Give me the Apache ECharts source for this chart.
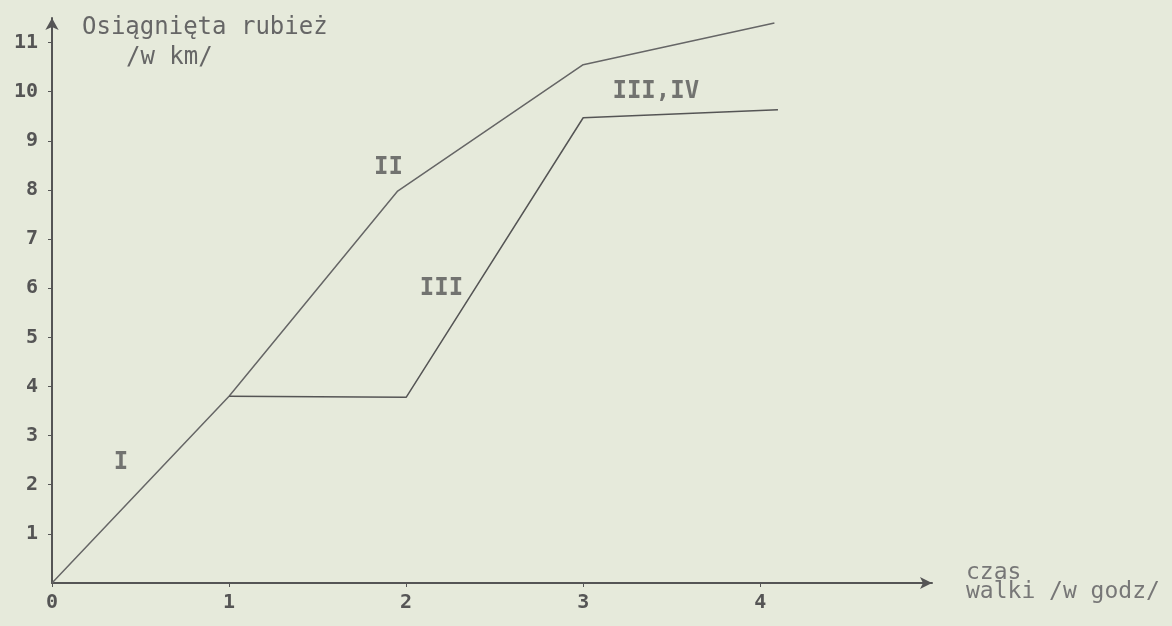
<!DOCTYPE html>
<html>
<head>
<meta charset="utf-8">
<script src="https://cdn.jsdelivr.net/npm/echarts@6/dist/echarts.min.js"></script>
<style>
  html, body { margin: 0; padding: 0; background: #e6eadb; }
  #chart { width: 1172px; height: 626px; }
</style>
</head>
<body>
<div id="chart"></div>
<script>
// wariant I -> II
const timeI_II = [0, 1, 1.95, 3, 4.08]
const rangeI_II = [0, 3.8, 7.97, 10.55, 11.4]
// wariant III -> III,IV
const timeIII = [1, 2, 3, 4.1]
const rangeIII = [3.8, 3.78, 9.47, 9.63]
// opisy odcinków
const tagNames = ['I', 'II', 'III', 'III,IV']
const tagTime = [0.39, 1.9, 2.2, 3.41]
const tagRange = [2.45, 8.45, 5.98, 10.0]
// osie
const xTicks = [0, 1, 2, 3, 4]
const yTicks = [1, 2, 3, 4, 5, 6, 7, 8, 9, 10, 11]

const ink = '#555'
const mono = '"DejaVu Sans Mono", "Liberation Mono", monospace'

const pairs = (xs, ys) => xs.map((x, i) => [x, ys[i]])

const instance = echarts.init(document.getElementById('chart'))
const option = {
  backgroundColor: '#e6eadb',
  animation: false,
  grid: {
    left: 52,
    right: 240,
    top: 18,
    bottom: 43
  },
  xAxis: {
    type: 'value',
    min: 0,
    max: 4.97,
    splitLine: { show: false },
    axisLine: {
      lineStyle: { color: '#555', width: 2 },
      symbol: ['none', 'arrow'],
      symbolSize: [9, 12]
    },
    axisTick: {
      customValues: xTicks,
      length: 4,
      lineStyle: { color: '#555' }
    },
    axisLabel: {
      customValues: xTicks,
      margin: 10,
      color: ink,
      fontFamily: mono,
      fontWeight: 'bold',
      fontSize: 20
    }
  },
  yAxis: {
    type: 'value',
    min: 0,
    max: 11.5,
    splitLine: { show: false },
    axisLine: {
      lineStyle: { color: '#555', width: 2 },
      symbol: ['none', 'arrow'],
      symbolSize: [10, 12]
    },
    axisTick: {
      customValues: yTicks,
      length: 4,
      lineStyle: { color: '#555' }
    },
    axisLabel: {
      customValues: yTicks,
      margin: 14,
      color: ink,
      fontFamily: mono,
      fontWeight: 'bold',
      fontSize: 20
    }
  },
  graphic: [
    {
      type: 'text',
      left: 82,
      top: 16,
      style: { text: 'Osiągnięta rubież', font: '24px ' + mono, fill: '#666' }
    },
    {
      type: 'text',
      left: 126,
      top: 46,
      style: { text: '/w km/', font: '24px ' + mono, fill: '#666' }
    },
    {
      type: 'text',
      left: 966,
      top: 562,
      style: { text: 'czas', font: '23px ' + mono, fill: '#777' }
    },
    {
      type: 'text',
      left: 966,
      top: 581,
      style: { text: 'walki /w godz/', font: '23px ' + mono, fill: '#777' }
    }
  ],
  series: [
    {
      name: 'I-II',
      type: 'line',
      data: pairs(timeI_II, rangeI_II),
      symbol: 'none',
      lineStyle: { color: '#666', width: 1.5 }
    },
    {
      name: 'III',
      type: 'line',
      data: pairs(timeIII, rangeIII),
      symbol: 'none',
      lineStyle: { color: '#555', width: 1.5 }
    },
    {
      name: 'opisy',
      type: 'scatter',
      data: tagNames.map((n, i) => ({ name: n, value: [tagTime[i], tagRange[i]] })),
      symbolSize: 0,
      label: {
        show: true,
        position: 'inside',
        formatter: (arg) => arg.name,
        color: '#555',
        fontFamily: mono,
        fontWeight: 'bold',
        fontSize: 24
      }
    }
  ]
}
instance.setOption(option)
</script>
</body>
</html>
